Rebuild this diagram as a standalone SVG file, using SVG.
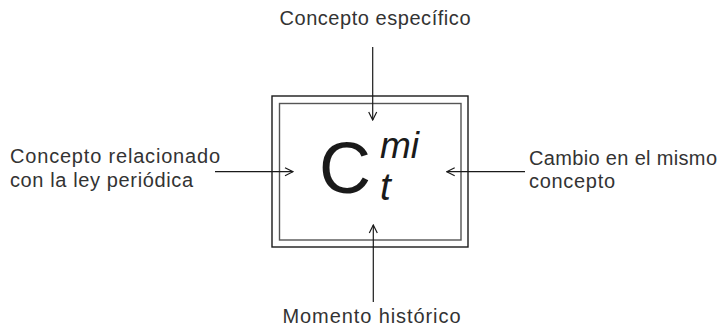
<svg xmlns="http://www.w3.org/2000/svg" width="726" height="327" viewBox="0 0 726 327">
<style>
.lbl{font-family:"Liberation Sans",Arial,Helvetica,sans-serif;font-size:20px;fill:#333333}
.conn{stroke:#1a1a1a;stroke-width:1.2;fill:none}
.f{font-family:"Liberation Sans",Arial,Helvetica,sans-serif;fill:#1a1a1a}
</style>
<defs>
<marker id="ah" viewBox="0 0 10 10" refX="9" refY="5" markerWidth="10" markerHeight="10" markerUnits="userSpaceOnUse" orient="auto">
<path d="M1,1 L9,5 L1,9" fill="none" stroke="#1a1a1a" stroke-width="1.2"/>
</marker>
</defs>
<rect width="726" height="327" fill="#ffffff"/>
<g id="box">
<rect x="272" y="96" width="196" height="151" fill="none" stroke="#1a1a1a" stroke-width="1.4"/>
<rect x="279.5" y="103.5" width="181.5" height="136.5" fill="none" stroke="#555555" stroke-width="1.4"/>
<text class="f" x="319" y="193" font-size="72">C</text>
<text class="f" x="380" y="158" font-size="37" font-style="italic">mi</text>
<text class="f" x="380" y="200" font-size="39" font-style="italic">t</text>
</g>
<g id="top"><text class="lbl" x="279.5" y="25" textLength="191" lengthAdjust="spacing">Concepto específico</text></g>
<g id="bottom"><text class="lbl" x="282.5" y="323" textLength="178" lengthAdjust="spacing">Momento histórico</text></g>
<g id="left">
<text class="lbl" x="10" y="163" textLength="210" lengthAdjust="spacing">Concepto relacionado</text>
<text class="lbl" x="10" y="186.5" textLength="183" lengthAdjust="spacing">con la ley periódica</text>
</g>
<g id="right">
<text class="lbl" x="529" y="164.5" textLength="188" lengthAdjust="spacing">Cambio en el mismo</text>
<text class="lbl" x="529" y="188" textLength="86" lengthAdjust="spacing">concepto</text>
</g>
<g id="connectors">
<line class="conn" x1="372.7" y1="47" x2="372.7" y2="120" marker-end="url(#ah)"/>
<line class="conn" x1="373.3" y1="302" x2="373.3" y2="225" marker-end="url(#ah)"/>
<line class="conn" x1="215" y1="171.7" x2="293" y2="171.7" marker-end="url(#ah)"/>
<line class="conn" x1="525" y1="171.7" x2="446.7" y2="171.7" marker-end="url(#ah)"/>
</g>
</svg>
